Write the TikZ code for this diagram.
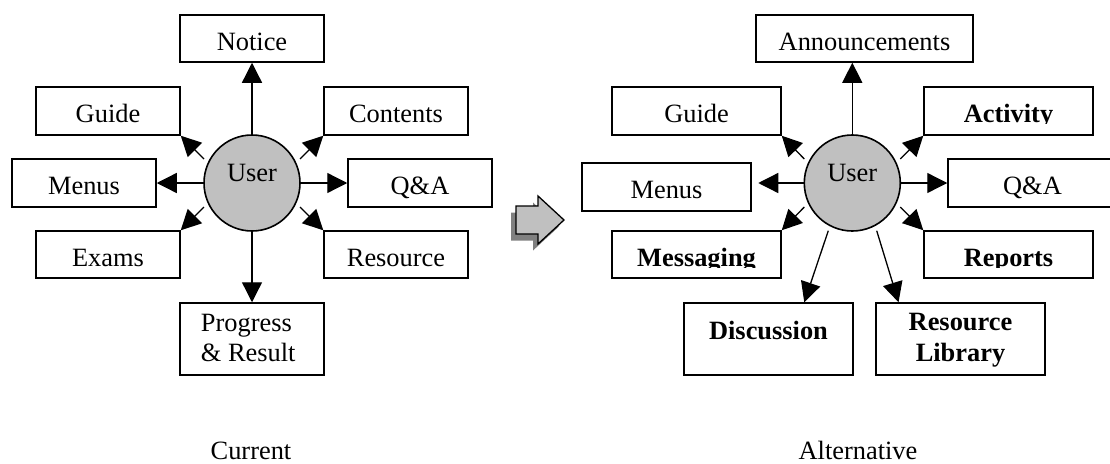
\documentclass[tikz,border=0pt]{standalone}
\usepackage{fontspec}
\setmainfont{Liberation Serif}
\usetikzlibrary{arrows.meta,calc}
\definecolor{silver}{HTML}{C0C0C0}
\definecolor{dropgray}{HTML}{808080}
\newcommand\labelfont{\fontsize{26.4}{30}\selectfont}
\tikzset{
  box/.style={draw, line width=1.5pt, inner sep=0pt, minimum height=48pt},
  narrow/.style={box, minimum width=144pt},
  wide/.style={box, minimum width=169pt},
  hub/.style={circle, draw, line width=1.6pt, fill=silver, minimum size=96pt, inner sep=0pt},
  txt/.style={inner sep=0pt, anchor=base, font=\labelfont},
  btxt/.style={txt, font=\labelfont\bfseries},
  link/.style={line width=1.3pt, -{Triangle[length=20pt,width=20pt]}},
}
% bold label whose descenders are cut off at the box's text line
\newcommand\cutlabel[3]{%
  \begin{scope}
    \clip ([yshift=-12.5pt]#1.west) rectangle (#1.north east);
    \node[btxt] (#2) at ([yshift=-11.5pt]#1.center) {#3};
  \end{scope}}
\newcommand\arrowoutline{(516,206) -- (538,206) -- (538,196) -- (564,220) -- (538,244) -- (538,234) -- (516,234) -- cycle}
\begin{document}
\begin{tikzpicture}[x=1pt,y=-1pt]
\useasboundingbox (0,0) rectangle (1110,463);
\clip (0,0) rectangle (1110,463);

% ---------- current layout ----------
\node[hub] (uL) at (252,183) {};
\node[txt] (uLt) at ([yshift=1.3pt]uL.center) {User};

\node[narrow, minimum height=47pt] (notice) at (252,38.5) {};
\node[txt] (noticet) at ([yshift=-11.5pt]notice.center) {Notice};
\node[narrow] (guideL) at (108,111) {};
\node[txt] (guideLt) at ([yshift=-11.5pt]guideL.center) {Guide};
\node[narrow] (contents) at (396,111) {};
\node[txt] (contentst) at ([yshift=-11.5pt]contents.center) {Contents};
\node[narrow] (menusL) at (84,183) {};
\node[txt] (menusLt) at ([yshift=-11.5pt]menusL.center) {Menus};
\node[narrow] (qaL) at (420,183) {};
\node[txt] (qaLt) at ([yshift=-11.5pt]qaL.center) {Q\&A};
\node[narrow, minimum height=47pt] (exams) at (108,254.5) {};
\node[txt] (examst) at ([yshift=-11.5pt]exams.center) {Exams};
\node[narrow, minimum height=47pt] (resource) at (396,254.5) {};
\node[txt] (resourcet) at ([yshift=-11.5pt]resource.center) {Resource};
\node[narrow, minimum height=72pt] (prog) at (252,339) {};
\node[txt, anchor=base west] (prog1) at (200.7,331) {Progress};
\node[txt, anchor=base west] (prog2) at (200.7,361.7) {\& Result};

\coordinate (sGL) at ($(uL)+(-48,-24)$);
\coordinate (sCL) at ($(uL)+(48,-24)$);
\coordinate (sEL) at ($(uL)+(-48,24)$);
\coordinate (sRL) at ($(uL)+(48,24)$);

\draw[link] (uL.north) -- (notice.south);
\draw[link] (uL.west) -- (menusL.east);
\draw[link] (uL.east) -- (qaL.west);
\draw[link] (uL.south) -- (prog.north);
\draw[link] (sGL) -- (guideL.south east);
\draw[link] (sCL) -- (contents.south west);
\draw[link] (sEL) -- (exams.north east);
\draw[link] (sRL) -- (resource.north west);

\node[txt] (cap1) at (251,459) {Current};

% ---------- transition arrow with its drop shadow ----------
\fill[dropgray] [shift={(-5,6.5)}] \arrowoutline;
\filldraw[fill=silver, line width=1.3pt, line join=miter] \arrowoutline;

% ---------- alternative layout ----------
\node[hub] (uR) at (852.3,183) {};
\node[txt] (uRt) at ([yshift=1.3pt]uR.center) {User};

\node[box, minimum width=217pt, minimum height=47pt] (announce) at (864.5,38.5) {};
\node[txt] (announcet) at ([yshift=-11.5pt]announce.center) {Announcements};
\node[wide] (guideR) at (696.5,111) {};
\node[txt] (guideRt) at ([yshift=-11.5pt]guideR.center) {Guide};
\node[wide] (activity) at (1008.5,111) {};
\cutlabel{activity}{activityt}{Activity}
\node[wide] (menusR) at (666.5,187) {};
\node[txt] (menusRt) at ([yshift=-11.5pt]menusR.center) {Menus};
\node[wide] (qaR) at (1032.5,183) {};
\node[txt] (qaRt) at ([yshift=-11.5pt]qaR.center) {Q\&A};
\node[wide, minimum height=47pt] (messaging) at (696.5,254.5) {};
\cutlabel{messaging}{messagingt}{Messaging}
\node[wide, minimum height=47pt] (reports) at (1008.5,254.5) {};
\cutlabel{reports}{reportst}{Reports}
\node[wide, minimum height=72pt] (disc) at (768.5,339) {};
\node[btxt] (disct) at (768.5,339.3) {Discussion};
\node[wide, minimum height=72pt] (reslib) at (960.5,339) {};
\node[btxt] (reslib1) at (960.5,330.5) {Resource};
\node[btxt] (reslib2) at (960.5,361.7) {Library};

\coordinate (sGR) at ($(uR)+(-48,-24)$);
\coordinate (sAR) at ($(uR)+(48,-24)$);
\coordinate (sMR) at ($(uR)+(-48,24)$);
\coordinate (sPR) at ($(uR)+(48,24)$);
\coordinate (sDR) at ($(uR)+(-24,47.7)$);
\coordinate (sLR) at ($(uR)+(24.4,47.7)$);
\coordinate (eDR) at ($(disc.north west)+(121,0)$);
\coordinate (eLR) at ($(reslib.north west)+(23.3,0)$);

\draw[link] (uR.north) -- (uR.north |- announce.south);
\draw[link, shorten >=6.5pt] (uR.west) -- (uR.west -| menusR.east);
\draw[link] (uR.east) -- (qaR.west);
\draw[link] (sGR) -- (guideR.south east);
\draw[link] (sAR) -- (activity.south west);
\draw[link] (sMR) -- (messaging.north east);
\draw[link] (sPR) -- (reports.north west);
\draw[link] (sDR) -- (eDR);
\draw[link] (sLR) -- (eLR);

\node[txt] (cap2) at (858,459) {Alternative};
\end{tikzpicture}
\end{document}
